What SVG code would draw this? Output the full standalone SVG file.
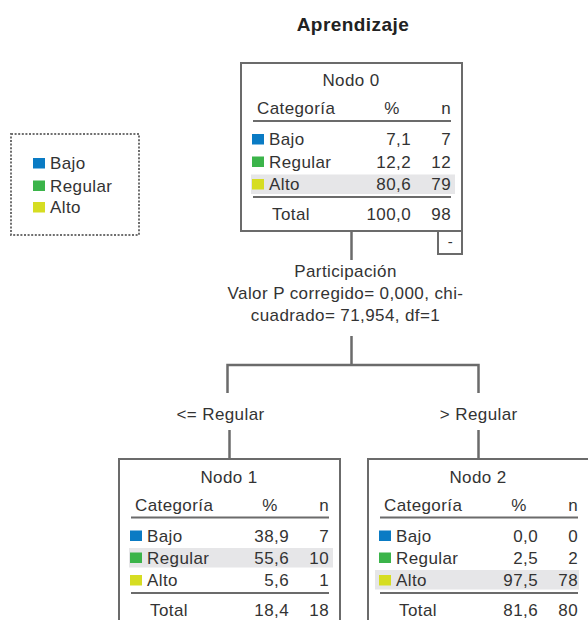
<svg xmlns="http://www.w3.org/2000/svg" width="588" height="620" viewBox="0 0 588 620">
  <defs>
    <style>
      text { font-family: "Liberation Sans", Arial, sans-serif; font-size: 17px; fill: #333; letter-spacing: 0.4px; }
      .title { font-weight: bold; font-size: 19px; fill: #222; letter-spacing: 0.45px; }
      .mid { text-anchor: middle; }
      .end { text-anchor: end; }
      .box { fill: #fff; stroke: #6b6b6b; stroke-width: 2; }
      .rule { stroke: #6b6b6b; stroke-width: 2; }
      .hl { fill: #e6e6e8; }
      .bajo { fill: #0a7bc4; }
      .regular { fill: #3bb44a; }
      .alto { fill: #d6dd22; }
      .conn { stroke: #6b6b6b; stroke-width: 2.5; fill: none; }
      .legend { fill: none; stroke: #6f6f6f; stroke-width: 2; stroke-dasharray: 2 1.6; }
    </style>
  </defs>

  <rect width="588" height="620" fill="#fff"/>

  <text class="title mid" x="353" y="31">Aprendizaje</text>

  <!-- legend -->
  <g id="legend">
    <rect class="legend" x="11" y="134" width="128" height="101"/>
    <rect class="bajo" x="33" y="158" width="12" height="10.5"/>
    <text x="50" y="169">Bajo</text>
    <rect class="regular" x="33" y="180.5" width="12" height="10.5"/>
    <text x="50" y="191.5">Regular</text>
    <rect class="alto" x="33" y="202" width="12" height="10.5"/>
    <text x="50" y="213">Alto</text>
  </g>

  <!-- connectors -->
  <g id="connectors">
    <line class="conn" x1="351.5" y1="231" x2="351.5" y2="260"/>
    <path class="conn" d="M351.5 336 V365 M227.5 393 V365 H478.5 V393"/>
    <line class="conn" x1="229.5" y1="430" x2="229.5" y2="459"/>
    <line class="conn" x1="478.5" y1="430" x2="478.5" y2="459"/>
  </g>

  <!-- split description -->
  <g id="split">
    <text class="mid" x="345.5" y="277">Participación</text>
    <text class="mid" x="345.5" y="299">Valor P corregido= 0,000, chi-</text>
    <text class="mid" x="345.5" y="321">cuadrado= 71,954, df=1</text>
  </g>

  <g id="edge-labels">
    <text class="mid" x="220.5" y="420">&lt;= Regular</text>
    <text class="mid" x="478.7" y="420">&gt; Regular</text>
  </g>

  <!-- Nodo 0 -->
  <g id="nodo0" transform="translate(241,63)">
    <rect class="box" x="0" y="0" width="221" height="168"/>
    <rect class="hl" x="10" y="111.5" width="204" height="19.5"/>
    <text class="mid" x="110" y="23">Nodo 0</text>
    <text x="16" y="51">Categoría</text>
    <text class="mid" x="151" y="51">%</text>
    <text class="end" x="210" y="51">n</text>
    <line class="rule" x1="12" y1="58" x2="210" y2="58"/>
    <rect class="bajo" x="11" y="71" width="12" height="10.5"/>
    <text x="28" y="82">Bajo</text>
    <text class="end" x="170" y="82">7,1</text>
    <text class="end" x="210" y="82">7</text>
    <rect class="regular" x="11" y="93.5" width="12" height="10.5"/>
    <text x="28" y="104.5">Regular</text>
    <text class="end" x="170" y="104.5">12,2</text>
    <text class="end" x="210" y="104.5">12</text>
    <rect class="alto" x="11" y="116" width="12" height="10.5"/>
    <text x="28" y="127">Alto</text>
    <text class="end" x="170" y="127">80,6</text>
    <text class="end" x="210" y="127">79</text>
    <line class="rule" x1="12" y1="134" x2="210" y2="134"/>
    <text x="31" y="157">Total</text>
    <text class="end" x="170" y="157">100,0</text>
    <text class="end" x="210" y="157">98</text>
    <rect class="box" x="197" y="168" width="24" height="23"/>
    <text class="mid" x="209.5" y="184" style="font-size:15px">-</text>
  </g>

  <!-- Nodo 1 -->
  <g id="nodo1" transform="translate(119,459)">
    <rect class="box" x="0" y="0" width="221" height="168"/>
    <rect class="hl" x="10" y="89" width="204" height="19.5"/>
    <text class="mid" x="110" y="24">Nodo 1</text>
    <text x="16" y="52">Categoría</text>
    <text class="mid" x="151" y="52">%</text>
    <text class="end" x="210" y="52">n</text>
    <line class="rule" x1="12" y1="58.5" x2="210" y2="58.5"/>
    <rect class="bajo" x="11" y="71.5" width="12" height="10.5"/>
    <text x="28" y="82.5">Bajo</text>
    <text class="end" x="170" y="82.5">38,9</text>
    <text class="end" x="210" y="82.5">7</text>
    <rect class="regular" x="11" y="93.5" width="12" height="10.5"/>
    <text x="28" y="104.5">Regular</text>
    <text class="end" x="170" y="104.5">55,6</text>
    <text class="end" x="210" y="104.5">10</text>
    <rect class="alto" x="11" y="116" width="12" height="10.5"/>
    <text x="28" y="127">Alto</text>
    <text class="end" x="170" y="127">5,6</text>
    <text class="end" x="210" y="127">1</text>
    <line class="rule" x1="12" y1="134" x2="210" y2="134"/>
    <text x="31" y="157">Total</text>
    <text class="end" x="170" y="157">18,4</text>
    <text class="end" x="210" y="157">18</text>
  </g>

  <!-- Nodo 2 -->
  <g id="nodo2" transform="translate(368,459)">
    <rect class="box" x="0" y="0" width="221" height="168"/>
    <rect class="hl" x="7" y="111" width="204" height="19.5"/>
    <text class="mid" x="110" y="24">Nodo 2</text>
    <text x="16" y="52">Categoría</text>
    <text class="mid" x="151" y="52">%</text>
    <text class="end" x="210" y="52">n</text>
    <line class="rule" x1="12" y1="58.5" x2="210" y2="58.5"/>
    <rect class="bajo" x="11" y="71.5" width="12" height="10.5"/>
    <text x="28" y="82.5">Bajo</text>
    <text class="end" x="170" y="82.5">0,0</text>
    <text class="end" x="210" y="82.5">0</text>
    <rect class="regular" x="11" y="93.5" width="12" height="10.5"/>
    <text x="28" y="104.5">Regular</text>
    <text class="end" x="170" y="104.5">2,5</text>
    <text class="end" x="210" y="104.5">2</text>
    <rect class="alto" x="11" y="116" width="12" height="10.5"/>
    <text x="28" y="127">Alto</text>
    <text class="end" x="170" y="127">97,5</text>
    <text class="end" x="210" y="127">78</text>
    <line class="rule" x1="12" y1="134" x2="210" y2="134"/>
    <text x="31" y="157">Total</text>
    <text class="end" x="170" y="157">81,6</text>
    <text class="end" x="210" y="157">80</text>
  </g>
</svg>
